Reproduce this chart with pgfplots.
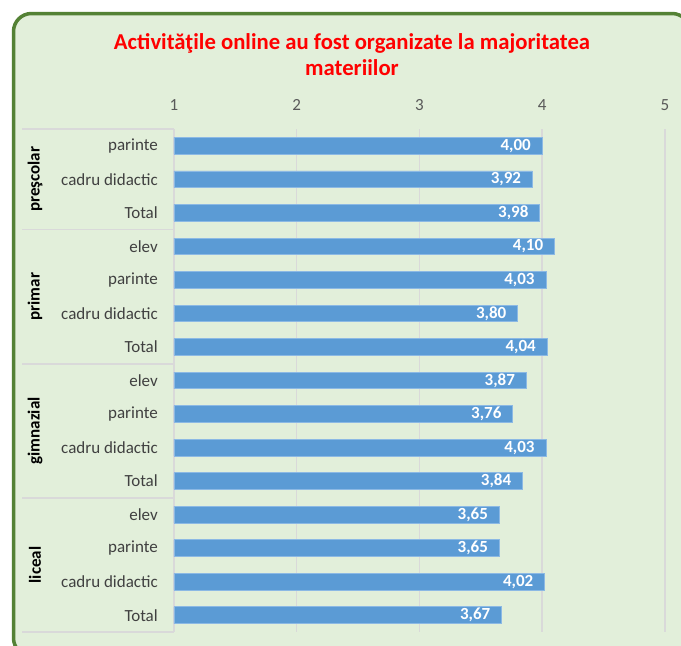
\documentclass[border=0pt]{standalone}
\usepackage{pgfplots}
\pgfplotsset{compat=1.18}
\usepackage{fontspec}
\setmainfont{Carlito}
\definecolor{bg}{RGB}{226,239,218}
\definecolor{framec}{RGB}{84,130,53}
\definecolor{barc}{RGB}{91,155,213}
\definecolor{baredge}{RGB}{140,185,228}
\definecolor{gridc}{RGB}{217,217,217}
\definecolor{ticktxt}{RGB}{89,89,89}
\definecolor{cattxt}{RGB}{64,64,64}
\begin{document}
\begin{tikzpicture}[x=1pt,y=1pt]
\path[use as bounding box] (0,0) rectangle (681,-646);
\fill[white] (0,0) rectangle (681,-646);
\begin{scope}
\clip (0,0) rectangle (681,-646);
\draw[framec, line width=3.5pt, fill=bg, rounded corners=18pt] (13.5,-13.5) rectangle (690,-656);
\end{scope}
\node[font=\fontsize{22.7}{26}\selectfont\bfseries, text=red, align=center] at (352,-55) {Activităţile online au fost organizate la majoritatea\\materiilor};
% table lines
\foreach \yy in {129,229.6,363.8,497.9,632} {
  \draw[gridc, line width=1.5pt] (22,-\yy) -- (174,-\yy);
}
\node[rotate=90, font=\fontsize{17}{20}\selectfont\bfseries] at (35,-179.3) {preşcolar};
\node[rotate=90, font=\fontsize{17}{20}\selectfont\bfseries] at (35,-296.7) {primar};
\node[rotate=90, font=\fontsize{17}{20}\selectfont\bfseries] at (35,-430.8) {gimnazial};
\node[rotate=90, font=\fontsize{17}{20}\selectfont\bfseries] at (35,-564.9) {liceal};
\begin{axis}[
  at={(174pt,-129pt)}, anchor=north west,
  scale only axis, width=491pt, height=503pt,
  xmin=1, xmax=5, ymin=-0.5, ymax=14.5, y dir=reverse,
  axis line style={draw=none},
  xtick={1,2,3,4,5}, xticklabel pos=upper,
  major tick length=0pt,
  xmajorgrids, grid style={gridc, line width=1.5pt},
  ytick={0,...,14},
  yticklabels={parinte, cadru didactic, Total, elev, parinte, cadru didactic, Total, elev, parinte, cadru didactic, Total, elev, parinte, cadru didactic, Total},
  tick label style={font=\fontsize{17}{20}\selectfont},
  xticklabel style={text=ticktxt, anchor=south, inner sep=0pt, yshift=18.5pt},
  yticklabel style={text=cattxt, anchor=east, inner sep=0pt, xshift=-16pt},
  /pgf/number format/assume math mode=true,
  xbar, bar width=16.7pt,
  nodes near coords={\pgfmathprintnumber[fixed,fixed zerofill,precision=2,use comma]{\pgfplotspointmeta}},
  every node near coord/.append style={anchor=east, xshift=-11pt, inner sep=0pt, text=white, font=\fontsize{17}{20}\selectfont\bfseries},
]
\addplot[fill=barc, draw=baredge, line width=0.8pt] coordinates {
(4.00,0) (3.92,1) (3.98,2)
(4.10,3) (4.03,4) (3.80,5) (4.04,6)
(3.87,7) (3.76,8) (4.03,9) (3.84,10)
(3.65,11) (3.65,12) (4.02,13) (3.67,14)
};
\end{axis}
\end{tikzpicture}
\end{document}
